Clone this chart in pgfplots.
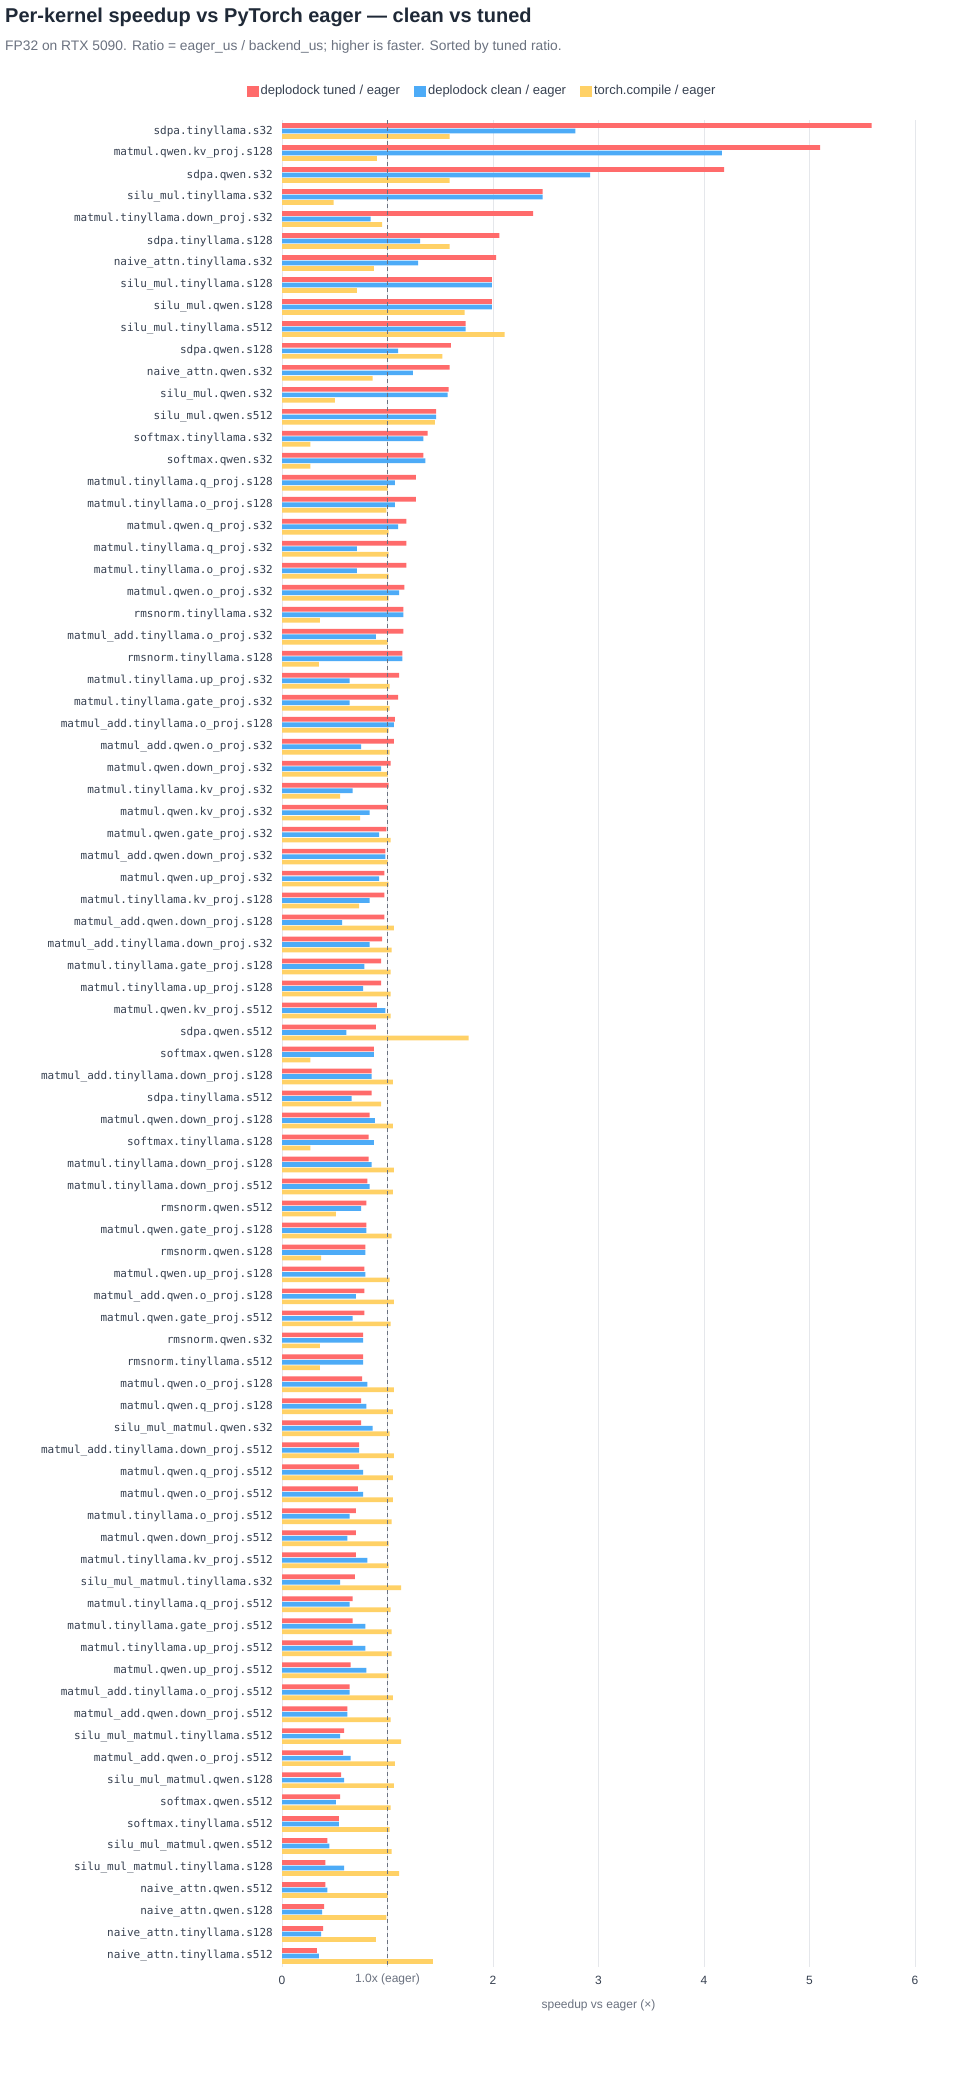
\documentclass[border=0pt]{standalone}
\usepackage{fontspec}
\setmainfont{Liberation Sans}
\newfontfamily\monofont{DejaVu Sans Mono}
\usepackage{pgfplots}
\pgfplotsset{compat=1.18}
\usepackage{pgfplotstable}
\definecolor{tuned}{HTML}{FF6B6B}
\definecolor{clean}{HTML}{4DABF7}
\definecolor{comp}{HTML}{FFD166}
\definecolor{titlec}{HTML}{1F2937}
\definecolor{subc}{HTML}{6B7280}
\definecolor{gridc}{HTML}{E5E7EB}
\definecolor{labc}{HTML}{374151}

\pgfplotstableread{
idx tuned clean comp
0 5.59 2.78 1.59
1 5.10 4.17 0.90
2 4.19 2.92 1.59
3 2.47 2.47 0.49
4 2.38 0.84 0.95
5 2.06 1.31 1.59
6 2.03 1.29 0.87
7 1.99 1.99 0.71
8 1.99 1.99 1.73
9 1.74 1.74 2.11
10 1.60 1.10 1.52
11 1.59 1.24 0.86
12 1.58 1.57 0.50
13 1.46 1.46 1.45
14 1.38 1.34 0.27
15 1.34 1.36 0.27
16 1.27 1.07 1.00
17 1.27 1.07 0.99
18 1.18 1.10 1.01
19 1.18 0.71 1.01
20 1.18 0.71 1.01
21 1.16 1.11 1.01
22 1.15 1.15 0.36
23 1.15 0.89 1.00
24 1.14 1.14 0.35
25 1.11 0.64 1.02
26 1.10 0.64 1.02
27 1.07 1.06 1.01
28 1.06 0.75 1.02
29 1.03 0.94 1.00
30 1.01 0.67 0.55
31 1.00 0.83 0.74
32 0.99 0.92 1.03
33 0.98 0.98 1.00
34 0.97 0.92 1.01
35 0.97 0.83 0.73
36 0.97 0.57 1.06
37 0.95 0.83 1.04
38 0.94 0.78 1.03
39 0.94 0.77 1.03
40 0.90 0.98 1.03
41 0.89 0.61 1.77
42 0.87 0.87 0.27
43 0.85 0.85 1.05
44 0.85 0.66 0.94
45 0.83 0.88 1.05
46 0.82 0.87 0.27
47 0.82 0.85 1.06
48 0.81 0.83 1.05
49 0.80 0.75 0.51
50 0.80 0.80 1.04
51 0.79 0.79 0.37
52 0.78 0.79 1.02
53 0.78 0.70 1.06
54 0.78 0.67 1.03
55 0.77 0.77 0.36
56 0.77 0.77 0.36
57 0.76 0.81 1.06
58 0.75 0.80 1.05
59 0.75 0.86 1.02
60 0.73 0.73 1.06
61 0.73 0.77 1.05
62 0.72 0.77 1.05
63 0.70 0.64 1.04
64 0.70 0.62 1.01
65 0.70 0.81 1.01
66 0.69 0.55 1.13
67 0.67 0.64 1.03
68 0.67 0.79 1.04
69 0.67 0.79 1.04
70 0.65 0.80 1.01
71 0.64 0.64 1.05
72 0.62 0.62 1.03
73 0.59 0.55 1.13
74 0.58 0.65 1.07
75 0.56 0.59 1.06
76 0.55 0.51 1.03
77 0.54 0.54 1.02
78 0.43 0.45 1.04
79 0.41 0.59 1.11
80 0.41 0.43 1.00
81 0.40 0.38 0.99
82 0.39 0.37 0.89
83 0.33 0.35 1.43
}\data

\begin{document}
\begin{tikzpicture}
\path[fill=white] (0pt,0pt) rectangle (960pt,2080pt);
\node[anchor=base west, inner sep=0pt, font=\bfseries\fontsize{20}{23}\selectfont, text=titlec] at (5pt,2057pt) {Per-kernel speedup vs PyTorch eager — clean vs tuned};
\node[anchor=base west, inner sep=0pt, font=\fontsize{13.8}{16}\selectfont, text=subc] at (5pt,2029pt) {FP32 on RTX 5090. Ratio = eager\_us / backend\_us; higher is faster. Sorted by tuned ratio.};
\begin{axis}[
  xbar,
  at={(282pt,113pt)}, anchor=south west,
  scale only axis, width=633pt, height=1847pt,
  xmin=0, xmax=6, ymin=-0.5, ymax=83.5,
  y dir=reverse, enlargelimits=false, clip=false,
  axis line style={draw=none}, tick style={draw=none}, major tick length=0pt,
  xmajorgrids, major grid style={gridc, line width=0.8pt},
  xtick={0,1,2,3,4,5,6}, xticklabels={0,{},2,3,4,5,6},
  ytick={0,...,83},
  yticklabels={sdpa.tinyllama.s32, matmul.qwen.kv\_proj.s128, sdpa.qwen.s32, silu\_mul.tinyllama.s32, matmul.tinyllama.down\_proj.s32, sdpa.tinyllama.s128, naive\_attn.tinyllama.s32, silu\_mul.tinyllama.s128, silu\_mul.qwen.s128, silu\_mul.tinyllama.s512, sdpa.qwen.s128, naive\_attn.qwen.s32, silu\_mul.qwen.s32, silu\_mul.qwen.s512, softmax.tinyllama.s32, softmax.qwen.s32, matmul.tinyllama.q\_proj.s128, matmul.tinyllama.o\_proj.s128, matmul.qwen.q\_proj.s32, matmul.tinyllama.q\_proj.s32, matmul.tinyllama.o\_proj.s32, matmul.qwen.o\_proj.s32, rmsnorm.tinyllama.s32, matmul\_add.tinyllama.o\_proj.s32, rmsnorm.tinyllama.s128, matmul.tinyllama.up\_proj.s32, matmul.tinyllama.gate\_proj.s32, matmul\_add.tinyllama.o\_proj.s128, matmul\_add.qwen.o\_proj.s32, matmul.qwen.down\_proj.s32, matmul.tinyllama.kv\_proj.s32, matmul.qwen.kv\_proj.s32, matmul.qwen.gate\_proj.s32, matmul\_add.qwen.down\_proj.s32, matmul.qwen.up\_proj.s32, matmul.tinyllama.kv\_proj.s128, matmul\_add.qwen.down\_proj.s128, matmul\_add.tinyllama.down\_proj.s32, matmul.tinyllama.gate\_proj.s128, matmul.tinyllama.up\_proj.s128, matmul.qwen.kv\_proj.s512, sdpa.qwen.s512, softmax.qwen.s128, matmul\_add.tinyllama.down\_proj.s128, sdpa.tinyllama.s512, matmul.qwen.down\_proj.s128, softmax.tinyllama.s128, matmul.tinyllama.down\_proj.s128, matmul.tinyllama.down\_proj.s512, rmsnorm.qwen.s512, matmul.qwen.gate\_proj.s128, rmsnorm.qwen.s128, matmul.qwen.up\_proj.s128, matmul\_add.qwen.o\_proj.s128, matmul.qwen.gate\_proj.s512, rmsnorm.qwen.s32, rmsnorm.tinyllama.s512, matmul.qwen.o\_proj.s128, matmul.qwen.q\_proj.s128, silu\_mul\_matmul.qwen.s32, matmul\_add.tinyllama.down\_proj.s512, matmul.qwen.q\_proj.s512, matmul.qwen.o\_proj.s512, matmul.tinyllama.o\_proj.s512, matmul.qwen.down\_proj.s512, matmul.tinyllama.kv\_proj.s512, silu\_mul\_matmul.tinyllama.s32, matmul.tinyllama.q\_proj.s512, matmul.tinyllama.gate\_proj.s512, matmul.tinyllama.up\_proj.s512, matmul.qwen.up\_proj.s512, matmul\_add.tinyllama.o\_proj.s512, matmul\_add.qwen.down\_proj.s512, silu\_mul\_matmul.tinyllama.s512, matmul\_add.qwen.o\_proj.s512, silu\_mul\_matmul.qwen.s128, softmax.qwen.s512, softmax.tinyllama.s512, silu\_mul\_matmul.qwen.s512, silu\_mul\_matmul.tinyllama.s128, naive\_attn.qwen.s512, naive\_attn.qwen.s128, naive\_attn.tinyllama.s128, naive\_attn.tinyllama.s512},
  yticklabel style={font=\monofont\fontsize{11}{11}\selectfont, text=labc, inner sep=0pt, xshift=-9pt},
  xticklabel style={font=\fontsize{12}{12}\selectfont, text=labc, yshift=-6pt},
  /pgf/number format/assume math mode=true,
  legend style={at={(0.316,1.0157)}, anchor=center, legend columns=3, draw=none, fill=none,
    font=\fontsize{13}{15}\selectfont, text=labc,
    /tikz/every even column/.append style={column sep=12pt}},
  legend image code/.code={\fill[#1] (0pt,-5.5pt) rectangle (12pt,5.5pt);},
]
\addplot[fill=tuned, draw=none, bar width=4.7pt, bar shift=5.5pt] table[x=tuned, y=idx]{\data};
\addlegendentry{deplodock tuned / eager}
\addplot[fill=clean, draw=none, bar width=4.7pt, bar shift=0pt] table[x=clean, y=idx]{\data};
\addlegendentry{deplodock clean / eager}
\addplot[fill=comp, draw=none, bar width=4.7pt, bar shift=-5.5pt] table[x=comp, y=idx]{\data};
\addlegendentry{torch.compile / eager}
\draw[subc, line width=0.8pt, dash pattern=on 4pt off 3pt] (axis cs:1,-0.5) -- (axis cs:1,83.5);
\end{axis}
\node[font=\fontsize{12}{12}\selectfont, text=subc] at (387.5pt,101pt) {1.0x (eager)};
\node[font=\fontsize{12}{12}\selectfont, text=subc] at (598.5pt,75pt) {speedup vs eager (×)};
\end{tikzpicture}
\end{document}
